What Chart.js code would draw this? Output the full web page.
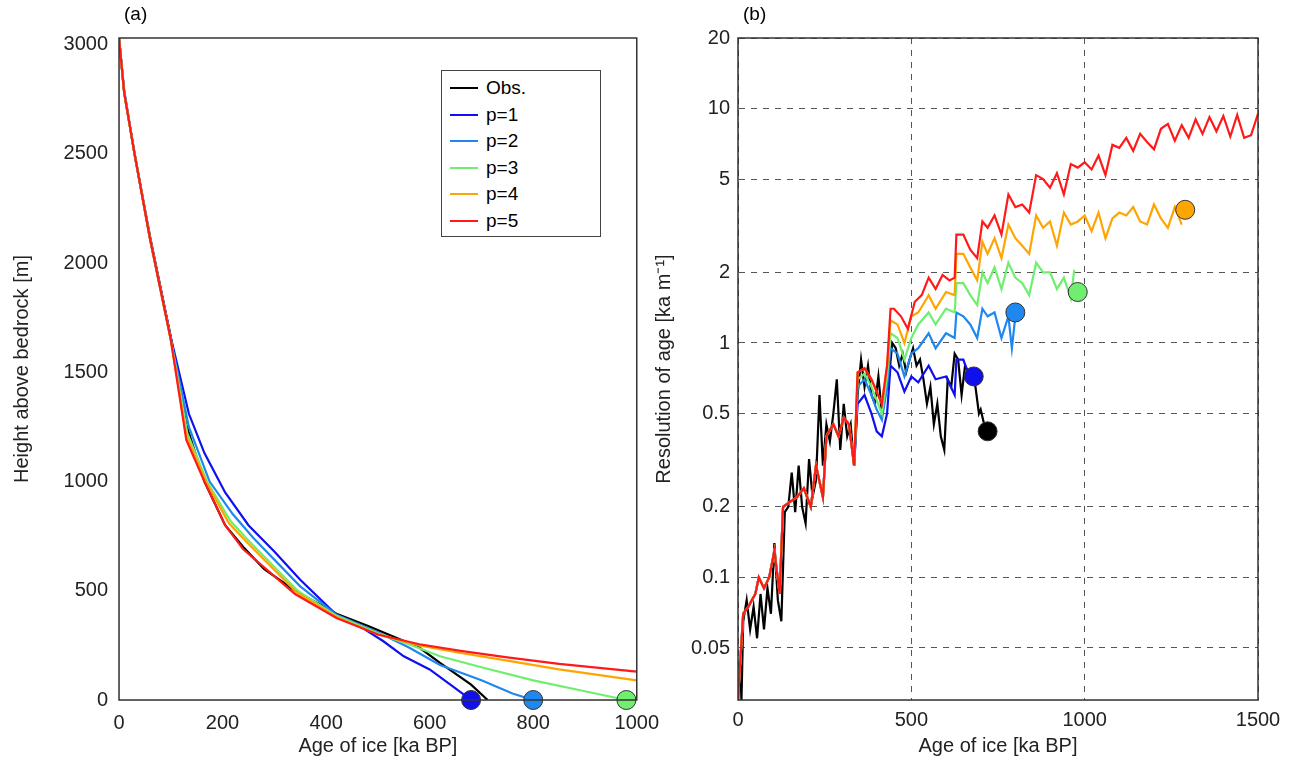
<!DOCTYPE html>
<html><head><meta charset="utf-8">
<script src="https://cdn.jsdelivr.net/npm/chart.js@4"></script>
<style>
body{margin:0;background:#fff;font-family:"Liberation Sans",Arial,sans-serif;}
.panel{position:absolute;top:0;height:775px;}
#legend{position:absolute;left:441px;top:70px;width:160px;height:167px;border:1px solid #444;background:#fff;font-size:19px;box-sizing:border-box;padding:4px 0 0 8px;}
#legend div{height:26.5px;display:flex;align-items:center;}
#legend span{display:inline-block;width:28px;height:2px;margin-right:8px;}
.lab{position:absolute;top:3px;font-size:19px;}
</style></head><body>
<div class="panel" style="left:650px;width:650px"><canvas id="cb" width="650" height="775"></canvas></div>
<div class="panel" style="left:0;width:662px"><canvas id="ca" width="662" height="775"></canvas></div>
<div class="lab" style="left:124px">(a)</div>
<div class="lab" style="left:743px">(b)</div>
<div id="legend"></div>
<script>
// ---- data ----
const seriesNames = ['Obs.', 'p=1', 'p=2', 'p=3', 'p=4', 'p=5'];
const seriesColors = ['#000000', '#1010ee', '#1e88f0', '#6fee6f', '#ffa500', '#ff1a1a'];

// panel (a): [age ka BP, height above bedrock m]
const heightObs = [[0,3030],[10,2780],[30,2500],[60,2120],[100,1660],[130,1260],[165,1000],[205,800],[240,700],[280,600],[340,500],[420,395],[480,340],[540,280],[580,240],[620,170],[680,70],[712,0]];
const heightP1 = [[0,3030],[10,2790],[30,2500],[60,2110],[100,1660],[135,1310],[165,1130],[205,950],[250,800],[300,680],[350,550],[420,390],[470,330],[510,270],[550,200],[600,140],[640,70],[680,0]];
const heightP2 = [[0,3030],[10,2780],[30,2500],[60,2110],[100,1650],[135,1250],[175,1000],[220,850],[260,740],[350,520],[420,390],[500,310],[560,240],[620,160],[700,90],[760,30],[800,0]];
const heightP3 = [[0,3030],[10,2780],[30,2500],[60,2110],[100,1650],[132,1220],[170,1000],[215,820],[250,730],[345,500],[420,385],[500,305],[560,255],[620,200],[700,150],[800,90],[900,40],[980,0]];
const heightP4 = [[0,3030],[10,2780],[30,2500],[60,2110],[100,1650],[130,1210],[168,1000],[212,810],[248,720],[342,495],[420,380],[500,300],[580,250],[660,215],[750,180],[850,140],[1000,90]];
const heightP5 = [[0,3030],[10,2780],[30,2500],[60,2110],[100,1650],[130,1190],[165,1000],[205,800],[240,690],[340,485],[420,375],[500,300],[580,255],[660,225],[750,195],[850,165],[1000,130]];
const bottomMarks = [[680,0,1],[800,0,2],[980,0,3]];

// panel (b): [age ka BP, resolution ka/m]
const resEarly = [[0,0.03],[5,0.04],[15,0.07],[30,0.075],[40,0.08],[50,0.085],[60,0.1],[75,0.09],[90,0.1],[105,0.13],[120,0.085],[130,0.2],[150,0.21],[170,0.22],[190,0.24],[210,0.2],[225,0.3],[245,0.22],[255,0.4],[275,0.45],[290,0.4],[305,0.48],[320,0.45],[335,0.3]];
const resMid = [[345,0.75],[365,0.78],[385,0.7],[400,0.62],[415,0.55],[430,0.8]];
const resMidP2 = [[345,0.65],[365,0.7],[385,0.6],[400,0.52],[415,0.47],[430,0.65]];
const resMidP3 = [[345,0.7],[365,0.74],[385,0.65],[400,0.57],[415,0.5],[430,0.72]];
const resP5 = [[440,1.4],[450,1.4],[470,1.3],[490,1.15],[510,1.5],[530,1.6],[550,1.9],[570,1.7],[590,1.95],[610,1.85],[625,1.9],[630,2.9],[650,2.9],[670,2.5],[690,2.3],[705,3.3],[720,3.1],[740,3.5],[760,2.9],[780,4.3],[800,3.8],[820,3.9],[840,3.6],[860,5.2],[880,5.0],[900,4.6],[920,5.3],[940,4.3],[960,5.8],[980,5.6],[1000,5.9],[1020,5.5],[1040,6.3],[1060,5.2],[1080,7.0],[1100,6.8],[1120,7.5],[1140,6.6],[1160,7.8],[1180,7.2],[1200,6.7],[1220,8.2],[1240,8.6],[1260,7.3],[1280,8.5],[1300,7.5],[1320,9.0],[1340,7.8],[1360,9.2],[1380,8.0],[1400,9.3],[1420,7.6],[1440,9.4],[1460,7.5],[1480,7.7],[1500,9.5]];
const resP4 = [[440,1.25],[460,1.2],[480,1.0],[500,1.3],[520,1.35],[550,1.6],[570,1.4],[600,1.65],[625,1.6],[630,2.4],[650,2.4],[670,2.1],[690,1.85],[705,2.7],[720,2.4],[740,2.8],[760,2.3],[780,3.2],[800,2.8],[820,2.6],[840,2.4],[860,3.5],[880,3.1],[900,3.3],[920,2.6],[940,3.6],[960,3.2],[980,3.3],[1000,3.5],[1020,3.0],[1040,3.6],[1060,2.8],[1080,3.4],[1100,3.6],[1120,3.5],[1140,3.8],[1160,3.3],[1180,3.2],[1200,3.9],[1220,3.4],[1240,3.1],[1260,3.8],[1280,3.2]];
const resP3 = [[440,1.1],[460,1.05],[480,0.85],[500,1.05],[520,1.2],[550,1.35],[570,1.2],[600,1.4],[625,1.35],[630,1.8],[650,1.8],[670,1.6],[690,1.45],[705,2.0],[720,1.8],[740,2.1],[760,1.7],[780,2.2],[800,1.9],[820,1.8],[840,1.6],[860,2.2],[880,2.0],[900,2.0],[920,1.7],[940,1.9],[960,1.55],[970,2.05]];
const resP2 = [[440,0.95],[460,0.9],[480,0.72],[500,0.9],[520,0.95],[550,1.1],[570,0.95],[600,1.1],[625,1.05],[630,1.35],[650,1.3],[670,1.2],[690,1.05],[705,1.4],[720,1.3],[740,1.35],[760,1.05],[780,1.3],[790,0.95],[800,1.3]];
const resP1 = [[345,0.55],[365,0.6],[385,0.5],[400,0.42],[415,0.4],[430,0.5],[440,0.8],[460,0.75],[480,0.62],[500,0.72],[520,0.68],[550,0.8],[570,0.7],[600,0.72],[625,0.6],[630,0.85],[650,0.85],[670,0.7]];
const resObs = [[0,0.03],[5,0.045],[10,0.03],[15,0.065],[25,0.08],[35,0.06],[45,0.075],[55,0.055],[65,0.085],[75,0.06],[85,0.09],[95,0.07],[105,0.14],[115,0.08],[125,0.065],[135,0.19],[145,0.2],[155,0.28],[165,0.19],[175,0.3],[185,0.2],[195,0.17],[205,0.32],[215,0.22],[225,0.26],[235,0.6],[245,0.3],[255,0.45],[265,0.38],[275,0.5],[285,0.7],[295,0.35],[305,0.55],[315,0.4],[325,0.45],[335,0.3],[345,0.6],[355,0.85],[365,0.65],[375,0.8],[385,0.6],[395,0.55],[405,0.72],[415,0.5],[425,0.6],[435,0.7],[445,1.0],[455,0.95],[465,0.8],[475,0.9],[485,0.75],[495,0.85],[505,0.95],[515,0.8],[525,0.85],[535,0.7],[545,0.55],[555,0.65],[565,0.45],[575,0.55],[585,0.4],[595,0.35],[605,0.7],[615,0.65],[625,0.9],[635,0.85],[645,0.6],[655,0.8],[665,0.75],[675,0.7],[685,0.65],[695,0.5],[700,0.52],[710,0.45]];
const endMarks = [[720,0.42,0],[680,0.72,1],[800,1.35,2],[980,1.65,3],[1290,3.7,4]];
const resTicks = [0.05,0.1,0.2,0.5,1,2,5,10,20];

// ---- helpers ----
const pts = arr => arr.map(([x, y]) => ({x, y}));
const font = {family: '"Liberation Sans", Arial, sans-serif', size: 20};
Chart.defaults.color = '#222';
Chart.defaults.animation = false;

function lineSet(arr, i) {
  return {type: 'line', data: pts(arr), borderColor: seriesColors[i], borderWidth: 2.2, pointRadius: 0, tension: 0, order: 6 - i};
}
function markSet(arr) {
  return {type: 'scatter', data: arr.map(([x, y]) => ({x, y})), pointRadius: 9.5,
    pointBackgroundColor: arr.map(m => seriesColors[m[2]]), pointBorderColor: '#333', pointBorderWidth: 1, clip: false, order: -1};
}
const frame = {
  id: 'frame',
  afterDraw(c) {
    const a = c.chartArea, g = c.ctx;
    g.save(); g.strokeStyle = '#333'; g.lineWidth = 1.5;
    g.strokeRect(a.left, a.top, a.right - a.left, a.bottom - a.top);
    g.restore();
  }
};
const fixW = w => s => { s.width = w; };
const fixH = h => s => { s.height = h; };
const plain = v => String(v);
const xTitle = {display: true, text: 'Age of ice [ka BP]', font, padding: 0};

// ---- panel (a) ----
new Chart(document.getElementById('ca'), {
  data: {datasets: [
    lineSet(heightObs, 0), lineSet(heightP1, 1), lineSet(heightP2, 2),
    lineSet(heightP3, 3), lineSet(heightP4, 4), lineSet(heightP5, 5), markSet(bottomMarks)
  ]},
  options: {
    responsive: false, maintainAspectRatio: false, devicePixelRatio: 1,
    layout: {padding: {top: 38, right: 0, bottom: 17, left: 10}},
    plugins: {legend: {display: false}, tooltip: {enabled: false}},
    scales: {
      x: {type: 'linear', min: 0, max: 1000, afterFit: fixH(58),
        afterBuildTicks: s => { s.ticks = [0,200,400,600,800,1000].map(v => ({value: v})); },
        ticks: {font, callback: plain, maxRotation: 0}, grid: {display: false},
        title: xTitle},
      y: {type: 'linear', min: 0, max: 3030, afterFit: fixW(109),
        afterBuildTicks: s => { s.ticks = [0,500,1000,1500,2000,2500,3000].map(v => ({value: v})); },
        ticks: {font, callback: plain}, grid: {display: false},
        title: {display: true, text: 'Height above bedrock [m]', font, padding: 0}}
    }
  },
  plugins: [frame]
});

// ---- panel (b) ----
const dashGrid = {color: '#555', lineWidth: 1, drawTicks: false};
const dashBorder = {dash: [6, 6]};
new Chart(document.getElementById('cb'), {
  data: {datasets: [
    lineSet(resObs, 0),
    lineSet(resEarly.concat(resP1), 1),
    lineSet(resEarly.concat(resMidP2, resP2), 2),
    lineSet(resEarly.concat(resMidP3, resP3), 3),
    lineSet(resEarly.concat(resMid, resP4), 4),
    lineSet(resEarly.concat(resMid, resP5), 5),
    markSet(endMarks)
  ]},
  options: {
    responsive: false, maintainAspectRatio: false, devicePixelRatio: 1,
    layout: {padding: {top: 38, right: 42, bottom: 17}},
    plugins: {legend: {display: false}, tooltip: {enabled: false}},
    scales: {
      x: {type: 'linear', min: 0, max: 1500, afterFit: fixH(58),
        afterBuildTicks: s => { s.ticks = [0,500,1000,1500].map(v => ({value: v})); },
        ticks: {font, padding: 8, callback: plain, maxRotation: 0}, grid: dashGrid, border: dashBorder,
        title: xTitle},
      y: {type: 'logarithmic', min: 0.03, max: 20, afterFit: fixW(88),
        afterBuildTicks: s => { s.ticks = resTicks.map(v => ({value: v})); },
        ticks: {font, padding: 8, callback: plain}, grid: dashGrid, border: dashBorder,
        title: {display: true, text: 'Resolution of age [ka m\u207B\u00B9]', font, padding: 2}}
    }
  },
  plugins: [frame]
});

// ---- legend ----
const leg = document.getElementById('legend');
seriesNames.forEach((n, i) => {
  leg.innerHTML += `<div><span style="background:${seriesColors[i]}"></span>${n}</div>`;
});
</script>
</body></html>
